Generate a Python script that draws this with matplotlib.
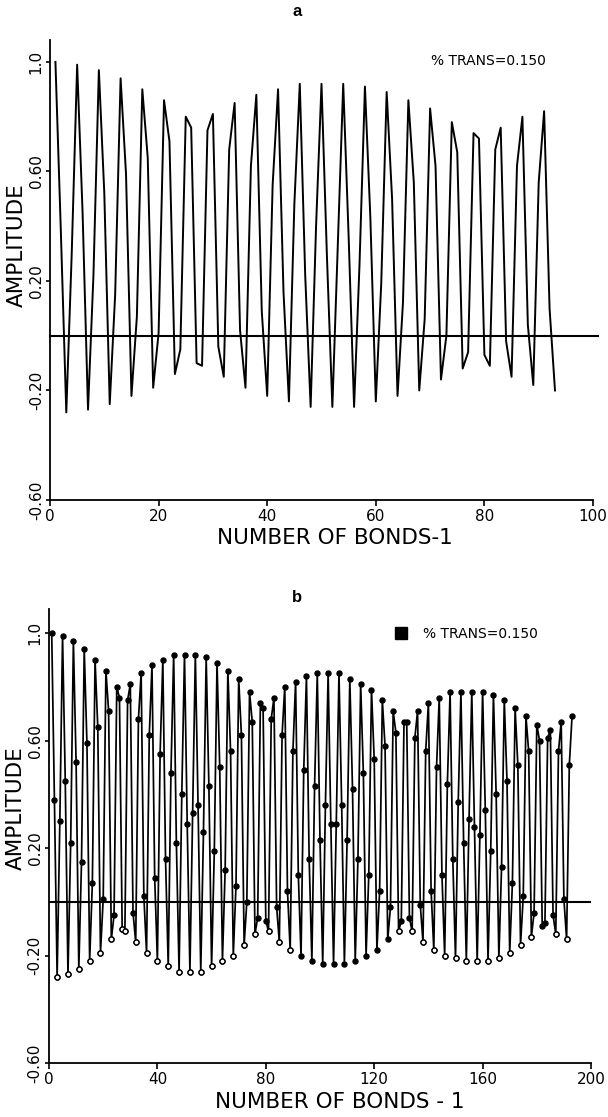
import matplotlib
matplotlib.use('Agg')
import matplotlib.pyplot as plt
from matplotlib.lines import Line2D

# amplitude per bond, first 93 bonds (panel a)
bonds_a = list(range(1, 94))
amplitude_a = [
    1.00, 0.38, -0.28, 0.30, 0.99, 0.45, -0.27, 0.22, 0.97, 0.52,
    -0.25, 0.15, 0.94, 0.59, -0.22, 0.07, 0.90, 0.65, -0.19, 0.01,
    0.86, 0.71, -0.14, -0.05, 0.80, 0.76, -0.10, -0.11, 0.75, 0.81,
    -0.04, -0.15, 0.68, 0.85, 0.02, -0.19, 0.62, 0.88, 0.09, -0.22,
    0.55, 0.90, 0.16, -0.24, 0.48, 0.92, 0.22, -0.26, 0.40, 0.92,
    0.29, -0.26, 0.33, 0.92, 0.36, -0.26, 0.26, 0.91, 0.43, -0.24,
    0.19, 0.89, 0.50, -0.22, 0.12, 0.86, 0.56, -0.20, 0.06, 0.83,
    0.62, -0.16, 0.00, 0.78, 0.67, -0.12, -0.06, 0.74, 0.72, -0.07,
    -0.11, 0.68, 0.76, -0.02, -0.15, 0.62, 0.80, 0.04, -0.18, 0.56,
    0.82, 0.10, -0.20,
]

# amplitude per bond, 193 bonds (panel b)
bonds_b = list(range(1, 194))
amplitude_b = [
    1.00, 0.38, -0.28, 0.30, 0.99, 0.45, -0.27, 0.22, 0.97, 0.52,
    -0.25, 0.15, 0.94, 0.59, -0.22, 0.07, 0.90, 0.65, -0.19, 0.01,
    0.86, 0.71, -0.14, -0.05, 0.80, 0.76, -0.10, -0.11, 0.75, 0.81,
    -0.04, -0.15, 0.68, 0.85, 0.02, -0.19, 0.62, 0.88, 0.09, -0.22,
    0.55, 0.90, 0.16, -0.24, 0.48, 0.92, 0.22, -0.26, 0.40, 0.92,
    0.29, -0.26, 0.33, 0.92, 0.36, -0.26, 0.26, 0.91, 0.43, -0.24,
    0.19, 0.89, 0.50, -0.22, 0.12, 0.86, 0.56, -0.20, 0.06, 0.83,
    0.62, -0.16, 0.00, 0.78, 0.67, -0.12, -0.06, 0.74, 0.72, -0.07,
    -0.11, 0.68, 0.76, -0.02, -0.15, 0.62, 0.80, 0.04, -0.18, 0.56,
    0.82, 0.10, -0.20, 0.49, 0.84, 0.16, -0.22, 0.43, 0.85, 0.23,
    -0.23, 0.36, 0.85, 0.29, -0.23, 0.29, 0.85, 0.36, -0.23, 0.23,
    0.83, 0.42, -0.22, 0.16, 0.81, 0.48, -0.20, 0.10, 0.79, 0.53,
    -0.18, 0.04, 0.75, 0.58, -0.14, -0.02, 0.71, 0.63, -0.11, -0.07,
    0.67, 0.67, -0.06, -0.11, 0.61, 0.71, -0.01, -0.15, 0.56, 0.74,
    0.04, -0.18, 0.50, 0.76, 0.10, -0.20, 0.44, 0.78, 0.16, -0.21,
    0.37, 0.78, 0.22, -0.22, 0.31, 0.78, 0.28, -0.22, 0.25, 0.78,
    0.34, -0.22, 0.19, 0.77, 0.40, -0.21, 0.13, 0.75, 0.45, -0.19,
    0.07, 0.72, 0.51, -0.16, 0.02, 0.69, 0.56, -0.13, -0.04, 0.66,
    0.60, -0.09, -0.08, 0.61, 0.64, -0.05, -0.12, 0.56, 0.67, 0.01,
    -0.14, 0.51, 0.69,
]

xticks_a = [0, 20, 40, 60, 80, 100]
xticks_b = [0, 40, 80, 120, 160, 200]
yticks = [1.0, 0.6, 0.2, -0.2, -0.6]
ytick_labels = ['1.0', '0.60', '0.20', '-0.20', '-0.60']
trans_label = '% TRANS=0.150'

plt.rcParams['font.family'] = 'DejaVu Sans'

W, H = 608, 1117
fig = plt.figure(figsize=(W / 100, H / 100), dpi=100)
ax_a = fig.add_axes([50 / W, 1 - 500 / H, 543 / W, 460 / H])
ax_b = fig.add_axes([49 / W, 1 - 1063 / H, 542 / W, 454 / H])


def style_axes(ax, xticks, ytop):
    ax.set_xlim(xticks[0], xticks[-1])
    ax.set_ylim(-0.6, ytop)
    ax.spines['top'].set_visible(False)
    ax.spines['right'].set_visible(False)
    for side in ('left', 'bottom'):
        ax.spines[side].set_linewidth(1.3)
    ax.set_xticks(xticks)
    ax.set_xticklabels([str(t) for t in xticks])
    ax.set_yticks(yticks)
    ax.set_yticklabels(ytick_labels, rotation=90, va='center')
    ax.tick_params(axis='x', direction='out', length=4.3, width=1.2,
                   pad=2.5, labelsize=11)
    ax.tick_params(axis='y', direction='out', length=3, width=1.2,
                   pad=1.5, labelsize=11)


# ---- panel a: line only ----
style_axes(ax_a, xticks_a, 1.08)
ax_a.plot(bonds_a, amplitude_a, color='black', lw=1.4)
ax_a.plot([0, 101], [0, 0], color='black', lw=1.5, clip_on=False)
ax_a.text(70.2, 1.005, trans_label, fontsize=10, ha='left', va='center')
ax_a.text(-0.061, 0.554, 'AMPLITUDE', transform=ax_a.transAxes,
          rotation=90, ha='center', va='center', fontsize=15.5)
ax_a.text(0.525, -0.082, 'NUMBER OF BONDS-1', transform=ax_a.transAxes,
          ha='center', va='center', fontsize=15.5)

# ---- panel b: line with symbols ----
style_axes(ax_b, xticks_b, 1.09)
ax_b.axhline(0, color='black', lw=1.5)
ax_b.plot(bonds_b, amplitude_b, color='black', lw=1.25)
ax_b.plot(bonds_b, amplitude_b, ls='none', marker='o', ms=3.6,
          color='black')
# the deep troughs print as hollow symbols outside the middle hump
open_x = [b for b, v in zip(bonds_b, amplitude_b)
          if v <= -0.1 and not (92 <= b <= 126)]
open_y = [v for b, v in zip(bonds_b, amplitude_b)
          if v <= -0.1 and not (92 <= b <= 126)]
ax_b.plot(open_x, open_y, ls='none', marker='o', ms=3.6, mfc='white',
          mec='black', mew=1.0)
handle = Line2D([], [], ls='none', marker='s', ms=8.5, color='black')
ax_b.legend([handle], [trans_label], loc='center left',
            bbox_to_anchor=(394 / W, 1 - 634 / H),
            bbox_transform=fig.transFigure, frameon=False, fontsize=10,
            handlelength=1.0, handletextpad=1.1, borderpad=0,
            borderaxespad=0)
ax_b.text(-0.062, 0.562, 'AMPLITUDE', transform=ax_b.transAxes,
          rotation=90, ha='center', va='center', fontsize=15.5)
ax_b.text(0.537, -0.086, 'NUMBER OF BONDS - 1', transform=ax_b.transAxes,
          ha='center', va='center', fontsize=15.5)

fig.text(297 / W, 1 - 12 / H, 'a', fontsize=12, fontweight='bold',
         family='Liberation Sans', ha='center', va='center')
fig.text(297 / W, 1 - 597 / H, 'b', fontsize=12, fontweight='bold',
         family='Liberation Sans', ha='center', va='center')

fig.savefig('out.png', dpi=100)
